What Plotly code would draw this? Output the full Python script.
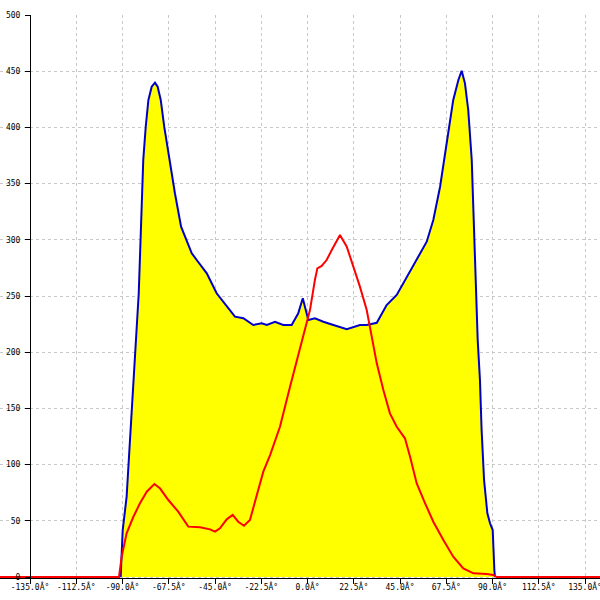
import plotly.graph_objects as go

# ---- data ----
blue_x = [-90.9, -89.9, -88.0, -86.0, -84.3, -83.1, -82.1, -81.0, -79.9, -78.7, -77.4, -75.8,
          -74.2, -72.9, -71.4, -69.7, -67.2, -64.5, -61.5, -56.3, -53.9, -49.0, -44.2, -39.3,
          -35.3, -31.2, -26.4, -22.3, -19.8, -15.8, -11.8, -7.7, -4.5, -2.3, -0.4, 0.4, 3.6,
          7.7, 12.6, 19.1, 25.5, 28.8, 33.7, 38.5, 43.4, 48.3, 53.1, 58.0, 61.2, 64.5, 67.7,
          70.9, 73.4, 75.0, 76.6, 78.2, 79.9, 80.7, 81.8, 82.8, 83.9, 84.7, 85.9, 87.5, 88.8,
          90.1, 90.9, 91.2]
blue_y = [0, 41.8, 71.2, 130.8, 190.4, 219.8, 252.4, 311.7, 371.0, 400.6, 424.4, 436.2,
          439.8, 436.2, 424.4, 400.6, 371.0, 341.4, 311.7, 288.0, 282.0, 270.2, 252.4, 240.5,
          231.6, 230.2, 224.2, 225.7, 224.2, 227.1, 224.2, 224.2, 234.6, 248.0, 234.6, 228.6,
          230.2, 227.1, 224.2, 220.4, 224.2, 224.2, 226.2, 242.0, 250.9, 267.2, 282.0, 298.3,
          317.6, 347.2, 385.9, 424.4, 442.2, 450.4, 439.2, 415.5, 371.0, 326.5, 267.2, 210.9,
          175.3, 130.8, 86.3, 56.7, 47.8, 41.8, 6.2, 0]

red_x = [-150.0, -91.7, -90.4, -88.0, -84.7, -81.5, -78.2, -74.5, -71.8, -67.7, -62.9, -58.0,
         -52.3, -47.4, -45.0, -42.6, -39.3, -36.4, -33.7, -30.9, -28.0, -24.7, -21.5, -18.2,
         -13.4, -8.5, -3.6, -1.2, 1.2, 3.6, 4.8, 6.9, 9.3, 11.8, 15.8, 19.1, 22.3, 25.5, 28.8,
         31.2, 33.7, 36.9, 40.1, 43.4, 47.4, 49.9, 53.1, 57.2, 61.2, 66.1, 70.9, 75.8, 80.7,
         87.2, 90.4, 92.0, 150.0]
red_y = [0, 0, 18.1, 38.9, 53.6, 65.6, 75.9, 82.7, 78.9, 68.5, 58.1, 44.8,
         44.2, 42.4, 40.3, 43.3, 51.3, 55.2, 49.2, 45.6, 50.7, 71.4, 93.7, 108.5,
         133.7, 169.3, 204.9, 219.8, 237.5, 264.2, 274.6, 276.7, 282.0, 290.9, 304.3, 293.9,
         276.1, 258.3, 237.5, 213.8, 190.1, 166.4, 145.6, 133.7, 123.4, 107.0, 83.4, 65.6,
         49.2, 32.9, 18.1, 7.7, 3.3, 2.7, 1.8, 0, 0]

x_tickvals = [-135.0, -112.5, -90.0, -67.5, -45.0, -22.5, 0.0, 22.5, 45.0, 67.5, 90.0, 112.5, 135.0]
x_ticktext = ["-135.0Â°", "-112.5Â°", "-90.0Â°", "-67.5Â°", "-45.0Â°", "-22.5Â°", "0.0Â°",
              "22.5Â°", "45.0Â°", "67.5Â°", "90.0Â°", "112.5Â°", "135.0Â°"]
y_tickvals = [0, 50, 100, 150, 200, 250, 300, 350, 400, 450, 500]

# ---- figure ----
W = H = 600
FONT = dict(family="DejaVu Sans Mono", size=8, color="black")
GRID = "#c8c8c8"

x_range = [-135 - 30 / (555 / 270), 135 + 15 / (555 / 270)]
y_range = [(577 - 583) / 1.124, 500]

fig = go.Figure()
fig.add_trace(go.Scatter(x=blue_x, y=blue_y, mode="lines", fill="tozeroy",
                         fillcolor="#ffff00", line=dict(color="#0000c8", width=2),
                         hoverinfo="skip", showlegend=False))
fig.add_trace(go.Scatter(x=red_x, y=red_y, mode="lines",
                         line=dict(color="#ff0000", width=2),
                         hoverinfo="skip", showlegend=False))

fig.update_layout(
    width=W, height=H,
    margin=dict(l=0, r=0, t=0, b=0),
    paper_bgcolor="white", plot_bgcolor="white",
    showlegend=False,
    xaxis=dict(domain=[0, 1], range=x_range, anchor="free", position=(600 - 578) / 600,
               tickmode="array", tickvals=x_tickvals, ticktext=x_ticktext,
               ticks="outside", ticklen=5, tickcolor="black", tickwidth=1,
               ticklabelstandoff=-4, ticklabeloverflow="allow",
               showline=True, linecolor="black", linewidth=1,
               showgrid=True, gridcolor=GRID, griddash="3px,3px", gridwidth=1,
               zeroline=False, tickfont=FONT, automargin=False, fixedrange=True),
    yaxis=dict(domain=[17 / 600, 0.975], range=y_range, anchor="free", position=30 / 600,
               tickmode="array", tickvals=y_tickvals,
               ticks="outside", ticklen=5, tickcolor="black", tickwidth=1,
               ticklabelstandoff=3,
               showline=True, linecolor="black", linewidth=1,
               showgrid=True, gridcolor=GRID, griddash="3px,3px", gridwidth=1,
               zeroline=False, tickfont=FONT, automargin=False, fixedrange=True),
    yaxis2=dict(domain=[17 / 600, 0.975], range=y_range, overlaying="y", anchor="free",
                position=585 / 600, side="right", showline=True, linecolor="black",
                linewidth=1, showticklabels=False, ticks="", showgrid=False,
                zeroline=False, automargin=False, fixedrange=True),
    shapes=[
        dict(type="rect", xref="paper", yref="paper", x0=0, x1=30 / 600, y0=0, y1=1,
             fillcolor="white", line=dict(width=0), layer="between"),
        dict(type="rect", xref="paper", yref="paper", x0=585 / 600, x1=1, y0=0, y1=1,
             fillcolor="white", line=dict(width=0), layer="between"),
    ],
)

fig.write_html("out.html", config={"displayModeBar": False},
               post_script="document.body.style.margin='0';document.body.style.overflow='hidden';")
